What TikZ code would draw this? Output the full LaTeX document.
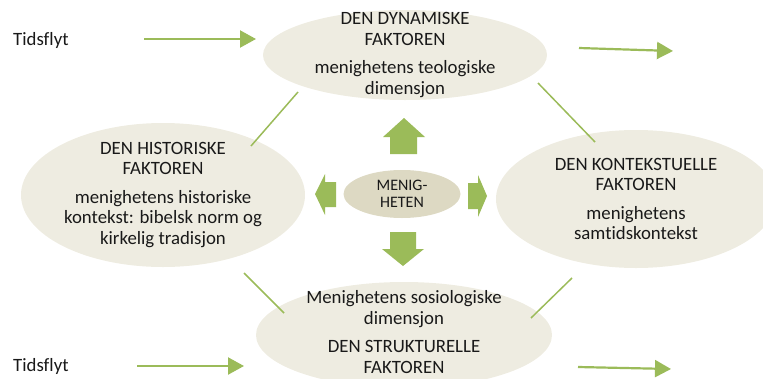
\documentclass[tikz,border=0pt]{standalone}
\usepackage{fontspec}
\setmainfont{Carlito}[Ligatures=NoCommon]
\usetikzlibrary{shapes.geometric,arrows.meta}
\definecolor{gr}{HTML}{9BBB59}
\definecolor{bg}{HTML}{EEECE1}
\definecolor{bgd}{HTML}{DDD9C3}
\begin{document}
\begin{tikzpicture}[x=1pt,y=-1pt,
 oval/.style={ellipse, fill=bg, draw=none, inner sep=0pt},
 txt/.style={align=center, font=\fontsize{18.8}{20.5}\selectfont, inner sep=0pt, text=black!90},
 link/.style={draw=gr, line width=1.5pt},
 flow/.style={draw=gr, line width=2.2pt, -{Triangle[length=16pt,width=17pt]}},
 blk/.style={fill=gr, draw=none}]
\useasboundingbox (0,0) rectangle (763,378);
\begin{scope}
\clip (0,0) rectangle (763,378);
\node[oval, minimum width=284pt, minimum height=90pt] (dyn) at (405,55) {};
\node[oval, minimum width=284pt, minimum height=144pt] (his) at (163,195) {};
\node[oval, minimum width=280pt, minimum height=138pt] (kon) at (636,199) {};
\node[oval, minimum width=296pt, minimum height=106pt] (str) at (404,335) {};
\end{scope}
\node[oval, fill=bgd, minimum width=117pt, minimum height=48pt] (men) at (402,194) {};

\node[txt] (dynT) at (dyn.center) {DEN DYNAMISKE\\FAKTOREN\\[8pt]menighetens teologiske\\dimensjon};
\node[txt] (hisT) at (his.center) {DEN HISTORISKE\\FAKTOREN\\[8pt]menighetens historiske\\kontekst: bibelsk norm og\\kirkelig tradisjon};
\node[txt] (konT) at (kon.center) {DEN KONTEKSTUELLE\\FAKTOREN\\[8pt]menighetens\\samtidskontekst};
\node[txt] (strT) at ([yshift=3pt]str.center) {Menighetens sosiologiske\\dimensjon\\[8pt]DEN STRUKTURELLE\\FAKTOREN};
\node[txt, font=\fontsize{16}{17}\selectfont] (menT) at (men.center) {MENIG-\\HETEN};

% block arrows
\path[blk] (404,118) -- (425,137) -- (417,137) -- (417,154) -- (390,154) -- (390,137) -- (383,137) -- cycle;
\path[blk] (390,232) -- (416,232) -- (416,249) -- (424,249) -- (403,266) -- (382,249) -- (390,249) -- cycle;
\path[blk] (315,194) -- (325,174) -- (325,182) -- (336,182) -- (336,207) -- (325,207) -- (325,215) -- cycle;
\path[blk] (468,183) -- (478,183) -- (478,175) -- (487,196) -- (478,217) -- (478,209) -- (468,209) -- cycle;

% connector lines
\coordinate (a1) at (298,92); \coordinate (a2) at (251,146);
\coordinate (b1) at (538,83); \coordinate (b2) at (595,142);
\coordinate (c1) at (244,273); \coordinate (c2) at (284,313);
\coordinate (d1) at (572,278); \coordinate (d2) at (531,318);
\draw[link] (a1) -- (a2);
\draw[link] (b1) -- (b2);
\draw[link] (c1) -- (c2);
\draw[link] (d1) -- (d2);

% time flow
\node[txt, anchor=west] (t1) at (13,40) {Tidsflyt};
\node[txt, anchor=west] (t2) at (13,366) {Tidsflyt};
\coordinate (f1s) at (144,39); \coordinate (f1e) at (256,39);
\coordinate (f2s) at (579,48); \coordinate (f2e) at (673,51);
\coordinate (f3s) at (137,366); \coordinate (f3e) at (244,366);
\coordinate (f4s) at (578,367); \coordinate (f4e) at (671,369);
\draw[flow] (f1s) -- (f1e);
\draw[flow] (f2s) -- (f2e);
\draw[flow] (f3s) -- (f3e);
\draw[flow] (f4s) -- (f4e);
\end{tikzpicture}
\end{document}
